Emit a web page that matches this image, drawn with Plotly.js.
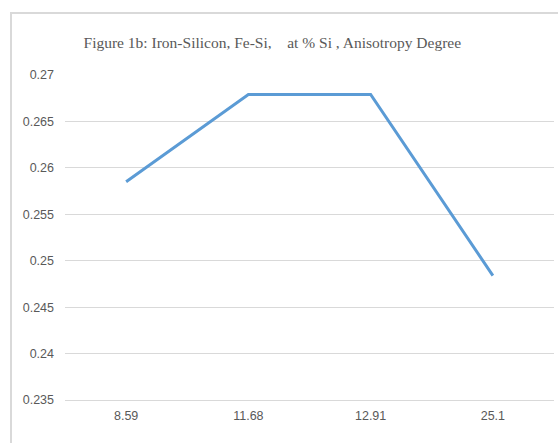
<!DOCTYPE html>
<html>
<head>
<meta charset="utf-8">
<script src="https://cdn.plot.ly/plotly-3.0.1.min.js"></script>
<style>
html,body{margin:0;padding:0;background:#fff;overflow:hidden;}
#wrap{position:relative;width:558px;height:443px;overflow:hidden;}
#frame{position:absolute;left:10px;top:12px;width:600px;height:500px;border-left:2px solid #d9d9d9;border-top:2px solid #d9d9d9;z-index:0;}
#chart{position:absolute;left:0;top:0;width:558px;height:443px;z-index:1;}
</style>
</head>
<body>
<div id="wrap"><div id="frame"></div><div id="chart"></div></div>
<script>
var categories = ["8.59", "11.68", "12.91", "25.1"];
var anisotropy = [0.2585, 0.2679, 0.2679, 0.2484];
var yTicks = [0.235, 0.24, 0.245, 0.25, 0.255, 0.26, 0.265, 0.27];
var yTickLabels = ["0.235", "0.24", "0.245", "0.25", "0.255", "0.26", "0.265", "0.27"];

var trace = {
  x: categories,
  y: anisotropy,
  type: "scatter",
  mode: "lines",
  line: {color: "#5B9BD5", width: 3},
  hoverinfo: "x+y"
};

var tickFont = {family: "Liberation Sans Narrow, Arial Narrow, Liberation Sans, Arial, sans-serif", size: 12.5, color: "#595959"};

var layout = {
  width: 558,
  height: 443,
  margin: {l: 65, r: 4, t: 75, b: 43},
  paper_bgcolor: "rgba(0,0,0,0)",
  plot_bgcolor: "rgba(0,0,0,0)",
  showlegend: false,
  title: {
    text: "Figure 1b: Iron-Silicon, Fe-Si,&nbsp;&nbsp;&nbsp;&nbsp;at % Si , Anisotropy Degree",
    font: {family: "Liberation Serif, Times New Roman, serif", size: 15.5, color: "#595959"},
    x: 0.488, xanchor: "center",
    y: 0.905, yanchor: "middle"
  },
  xaxis: {
    type: "category",
    range: [-0.5, 3.5],
    tickfont: tickFont,
    showgrid: false,
    showline: true,
    linecolor: "#d9d9d9",
    linewidth: 1,
    ticks: "",
    ticklabelstandoff: 4,
    zeroline: false,
    fixedrange: true
  },
  yaxis: {
    range: [0.235, 0.27],
    tickvals: yTicks,
    ticktext: yTickLabels,
    tickfont: tickFont,
    showgrid: true,
    gridcolor: "#d9d9d9",
    gridwidth: 1,
    showline: false,
    zeroline: false,
    ticks: "",
    ticklabelstandoff: 10,
    fixedrange: true
  }
};

Plotly.newPlot("chart", [trace], layout, {displayModeBar: false, staticPlot: true});
</script>
</body>
</html>
